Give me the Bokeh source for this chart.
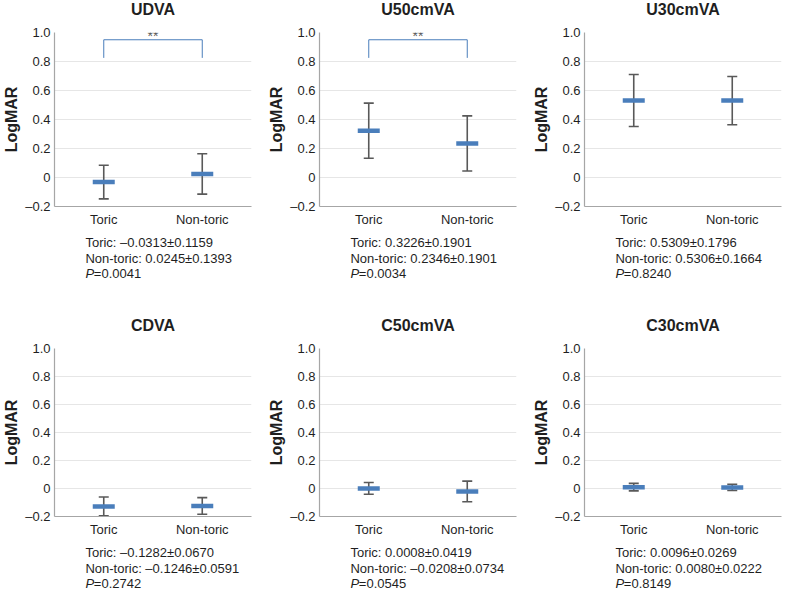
from bokeh.plotting import figure
from bokeh.layouts import row, column
from bokeh.models import Range1d, FactorRange, FixedTicker, Label
from bokeh.core.properties import value
from bokeh.embed import file_html
from bokeh.resources import INLINE

# ---------------- data ----------------
panels = ["UDVA", "U50cmVA", "U30cmVA", "CDVA", "C50cmVA", "C30cmVA"]
groups = ["Toric", "Non-toric"]
toric_mean = [-0.0313, 0.3226, 0.5309, -0.1282, 0.0008, 0.0096]
toric_sd = [0.1159, 0.1901, 0.1796, 0.0670, 0.0419, 0.0269]
nontoric_mean = [0.0245, 0.2346, 0.5306, -0.1246, -0.0208, 0.0080]
nontoric_sd = [0.1393, 0.1901, 0.1664, 0.0591, 0.0734, 0.0222]
p_values = ["0.0041", "0.0034", "0.8240", "0.2742", "0.0545", "0.8149"]
significance = ["**", "**", "", "", "", ""]
bracket_low = 0.825
bracket_high = 0.95
y_ticks = [-0.2, 0, 0.2, 0.4, 0.6, 0.8, 1.0]
y_tick_labels = ["\u20130.2", "0", "0.2", "0.4", "0.6", "0.8", "1.0"]

# ---------------- style ----------------
FONT = "Liberation Sans"
BLUE = "#4a7ebb"
GREY = "#595959"
AXIS = "#a6a6a6"
GRID = "#e6e6e6"
TXT = "#1f1f1f"

FRAME_W = 204
frame_heights = [174, 168]
LEFT = 47
TOP = 10
BOTTOM = 24
HEAD_H = 22
col_widths = [265, 265, 252]
foot_heights = [86, 50]
foot_line_y = [12, 27.5, 43]


def fmt(v):
    return f"{v:.4f}".replace("-", "\u2013")


def blank_fig(w, h):
    f = figure(width=w, height=h, x_range=Range1d(0, FRAME_W), y_range=Range1d(h, 0),
               output_backend="svg", toolbar_location=None,
               min_border_left=LEFT, min_border_right=w - LEFT - FRAME_W,
               min_border_top=0, min_border_bottom=0,
               x_axis_type=None, y_axis_type=None)
    f.outline_line_color = None
    f.grid.visible = False
    return f


def make_head(i):
    w = col_widths[i % 3]
    f = blank_fig(w, HEAD_H)
    f.text(x=[FRAME_W / 2], y=[9], text=[panels[i]], text_font=value(FONT),
           text_font_size=value("16px"), text_font_style="bold", text_color=TXT,
           text_align="center", text_baseline="middle")
    return f


def make_panel(i):
    w = col_widths[i % 3]
    fh = frame_heights[i // 3]
    h = TOP + fh + BOTTOM
    p = figure(
        width=w, height=h,
        x_range=FactorRange(factors=groups),
        y_range=Range1d(-0.2, 1.0),
        output_backend="svg", toolbar_location=None,
        min_border_left=LEFT, min_border_right=w - LEFT - FRAME_W,
        min_border_top=TOP, min_border_bottom=BOTTOM,
    )
    p.outline_line_color = None
    p.background_fill_color = "white"
    p.border_fill_color = "white"
    p.xgrid.grid_line_color = None
    p.ygrid.grid_line_color = GRID
    p.ygrid.grid_line_width = 1
    p.yaxis.ticker = FixedTicker(ticks=y_ticks)
    p.yaxis.major_label_overrides = dict(zip(y_ticks, y_tick_labels))
    for ax in (p.xaxis, p.yaxis):
        ax.axis_line_color = AXIS
        ax.axis_line_width = 1.2
        ax.major_tick_line_color = None
        ax.minor_tick_line_color = None
        ax.major_tick_out = 0
        ax.major_tick_in = 0
        ax.major_label_text_font = FONT
        ax.major_label_text_font_size = "13px"
        ax.major_label_text_color = TXT
    p.xaxis.major_label_standoff = 5
    p.yaxis.major_label_standoff = 4
    p.yaxis.axis_label = "LogMAR"
    p.yaxis.axis_label_text_font = FONT
    p.yaxis.axis_label_text_font_size = "16px"
    p.yaxis.axis_label_text_font_style = "bold"
    p.yaxis.axis_label_text_color = TXT
    p.yaxis.axis_label_standoff = 2

    means = [toric_mean[i], nontoric_mean[i]]
    sds = [toric_sd[i], nontoric_sd[i]]
    lower = [m - s for m, s in zip(means, sds)]
    upper = [m + s for m, s in zip(means, sds)]

    # error bars (mean +/- SD)
    p.segment(x0=groups, y0=lower, x1=groups, y1=upper,
              line_color=GREY, line_width=1.6)
    p.scatter(x=groups + groups, y=lower + upper, marker="dash", size=10,
              line_color=GREY, line_width=1.6)
    # mean bars
    p.scatter(x=groups, y=means, marker="dash", size=22,
              line_color=BLUE, line_width=4.5)

    # significance bracket
    if significance[i]:
        p.line(x=[groups[0], groups[0], groups[1], groups[1]],
               y=[bracket_low, bracket_high, bracket_high, bracket_low],
               line_color=BLUE, line_width=1)
        p.add_layout(Label(x=1.0, y=0.975, text=significance[i],
                           text_font=FONT, text_font_size="14px",
                           text_color=GREY, text_align="center",
                           text_baseline="middle"))
    return p


def make_foot(i):
    w = col_widths[i % 3]
    h = foot_heights[i // 3]
    t = blank_fig(w, h)
    tx = 32
    lines = [f"Toric: {fmt(toric_mean[i])}\u00b1{fmt(toric_sd[i])}",
             f"Non-toric: {fmt(nontoric_mean[i])}\u00b1{fmt(nontoric_sd[i])}"]
    common = dict(text_font=value(FONT), text_font_size=value("13px"),
                  text_color=TXT, text_align="left", text_baseline="middle")
    t.text(x=[tx, tx], y=foot_line_y[:2], text=lines, **common)
    t.text(x=[tx], y=[foot_line_y[2]], text=["P"], text_font_style="italic", **common)
    t.text(x=[tx + 8.7], y=[foot_line_y[2]], text=["=" + p_values[i]], **common)
    return t


cols = [column(make_head(i), make_panel(i), make_foot(i)) for i in range(6)]
layout = column(row(*cols[:3]), row(*cols[3:]))

open("out.html", "w").write(file_html(layout, INLINE))
